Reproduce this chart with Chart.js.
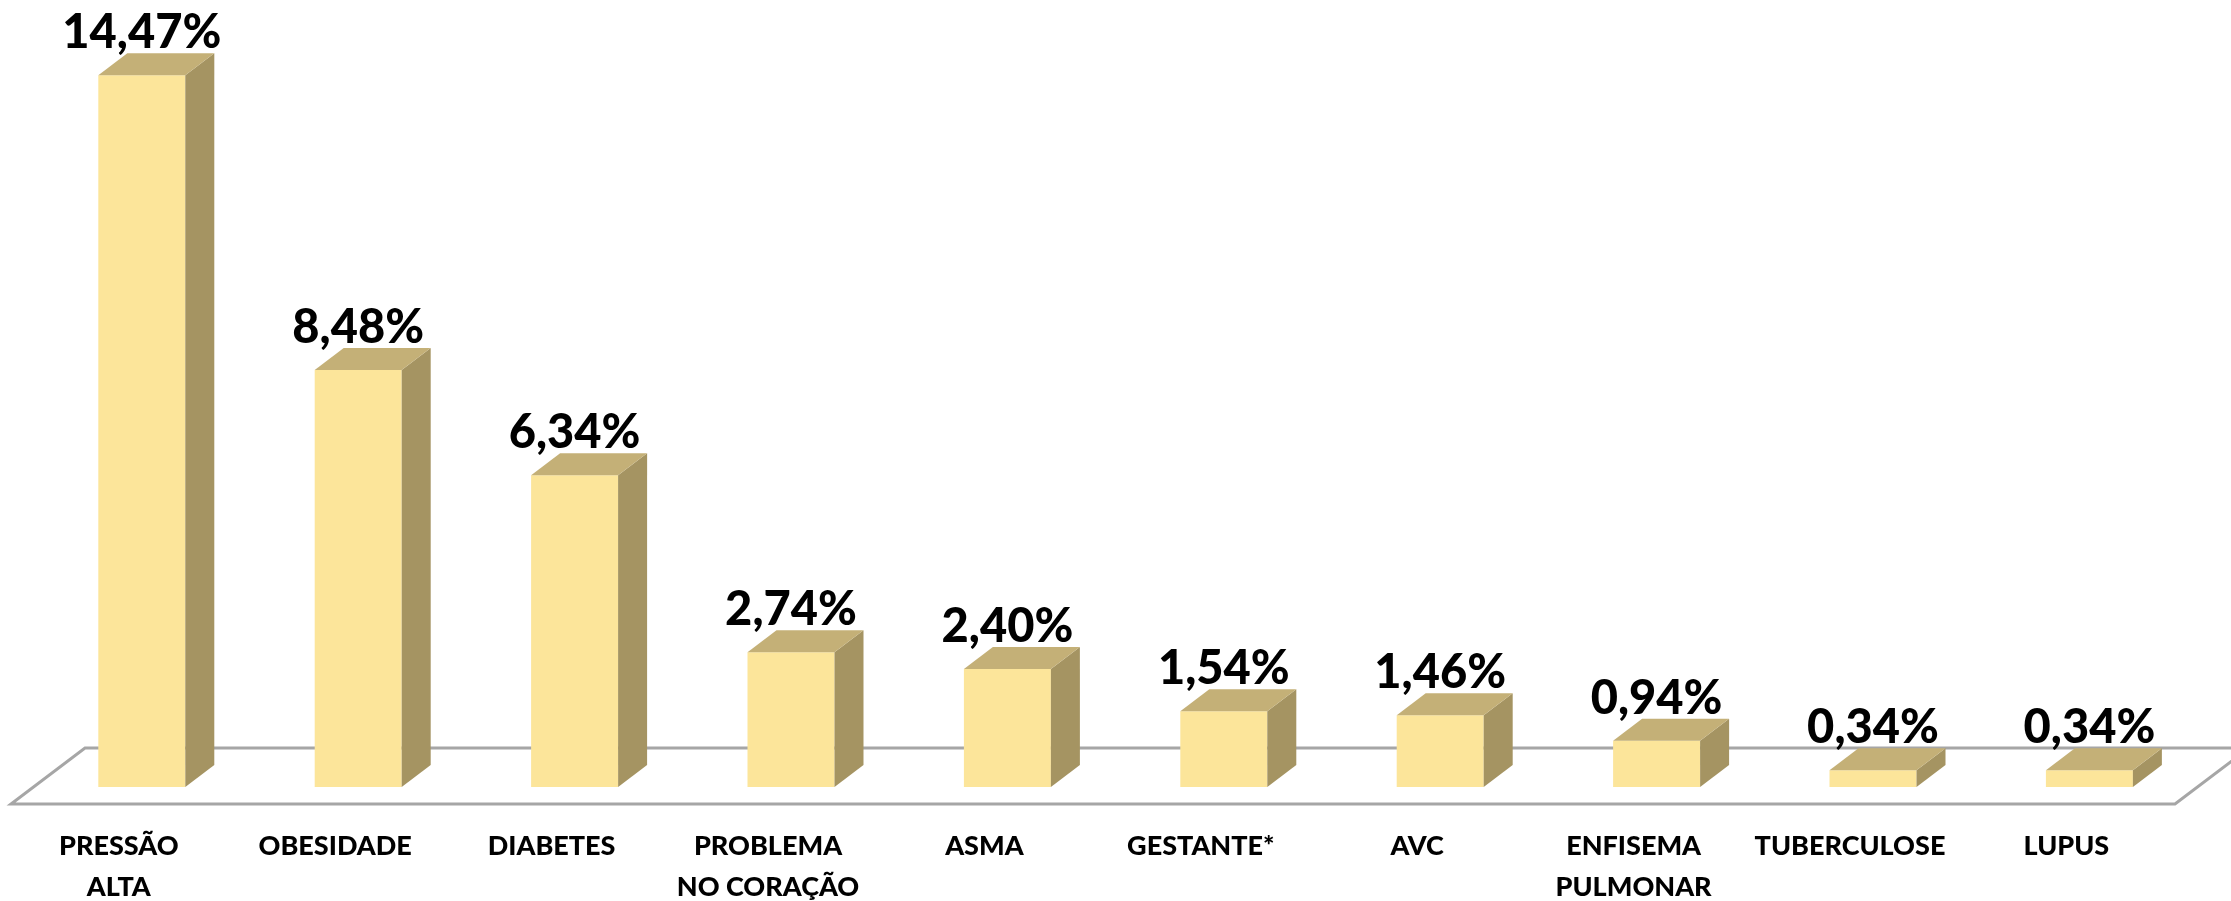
<!DOCTYPE html>
<html>
<head>
<meta charset="utf-8">
<script src="https://cdn.jsdelivr.net/npm/chart.js@4/dist/chart.umd.min.js"></script>
<style>
  html, body { margin: 0; padding: 0; background: #ffffff; }
  canvas { display: block; }
</style>
</head>
<body>
<canvas id="c" width="2231" height="901"></canvas>
<script>
const categories = [
  ["PRESSÃO", "ALTA"],
  "OBESIDADE",
  "DIABETES",
  ["PROBLEMA", "NO CORAÇÃO"],
  "ASMA",
  "GESTANTE*",
  "AVC",
  ["ENFISEMA", "PULMONAR"],
  "TUBERCULOSE",
  "LUPUS"
];
const values = [14.47, 8.48, 6.34, 2.74, 2.40, 1.54, 1.46, 0.94, 0.34, 0.34];

const FRONT = '#FCE59A';
const SIDE = '#A59462';
const TOP = '#C4B077';
const DX = 29, DY = 22;

const floorPlugin = {
  id: 'floor3d',
  beforeDatasetsDraw(chart) {
    const ctx = chart.ctx;
    const a = chart.chartArea;
    const base = chart.scales.y.getPixelForValue(0);
    const backY = base - 39, frontY = base + 17;
    ctx.save();
    ctx.strokeStyle = '#A6A6A6';
    ctx.lineWidth = 3;
    ctx.lineJoin = 'miter';
    ctx.beginPath();
    ctx.moveTo(a.right + 51.4, backY);
    ctx.lineTo(a.left + 51.4, backY);
    ctx.lineTo(a.left - 22.6, frontY);
    ctx.lineTo(a.right - 22.6, frontY);
    ctx.lineTo(a.right + 51.4, backY);
    ctx.stroke();
    ctx.restore();
  },
  afterDatasetsDraw(chart) {
    const ctx = chart.ctx;
    const meta = chart.getDatasetMeta(0);
    ctx.save();
    meta.data.forEach((bar, i) => {
      const p = bar.getProps(['x', 'y', 'base', 'width'], true);
      const l = p.x - p.width / 2, r = p.x + p.width / 2;
      // side face
      ctx.fillStyle = SIDE;
      ctx.beginPath();
      ctx.moveTo(r, p.y);
      ctx.lineTo(r + DX, p.y - DY);
      ctx.lineTo(r + DX, p.base - DY);
      ctx.lineTo(r, p.base);
      ctx.closePath();
      ctx.fill();
      // top face
      ctx.fillStyle = TOP;
      ctx.beginPath();
      ctx.moveTo(l, p.y);
      ctx.lineTo(l + DX, p.y - DY);
      ctx.lineTo(r + DX, p.y - DY);
      ctx.lineTo(r, p.y);
      ctx.closePath();
      ctx.fill();
      // value label
      ctx.fillStyle = '#000000';
      ctx.font = '900 47px Lato, "Open Sans", sans-serif';
      ctx.textAlign = 'center';
      ctx.textBaseline = 'alphabetic';
      const txt = values[i].toFixed(2).replace('.', ',') + '%';
      ctx.fillText(txt, p.x, p.y - 27);
    });
    ctx.restore();
  }
};

new Chart(document.getElementById('c'), {
  type: 'bar',
  data: {
    labels: categories,
    datasets: [{
      data: values,
      backgroundColor: FRONT,
      borderWidth: 0,
      barPercentage: 0.402,
      categoryPercentage: 1.0
    }]
  },
  options: {
    responsive: false,
    animation: false,
    devicePixelRatio: 1,
    layout: { padding: { left: 33.6, right: 33.4, top: 0, bottom: 0 } },
    plugins: {
      legend: { display: false },
      tooltip: { enabled: false },
      title: { display: false }
    },
    scales: {
      x: {
        grid: { display: false, drawTicks: false },
        border: { display: false },
        ticks: {
          color: '#000000',
          font: { family: 'Lato, "Open Sans", sans-serif', weight: '900', size: 27, lineHeight: '41px' },
          padding: 39,
          labelOffset: -23,
          maxRotation: 0,
          autoSkip: false
        },
        afterFit(scale) { scale.height = 114; }
      },
      y: {
        display: false,
        min: 0,
        max: 16
      }
    }
  },
  plugins: [floorPlugin]
});
</script>
</body>
</html>
